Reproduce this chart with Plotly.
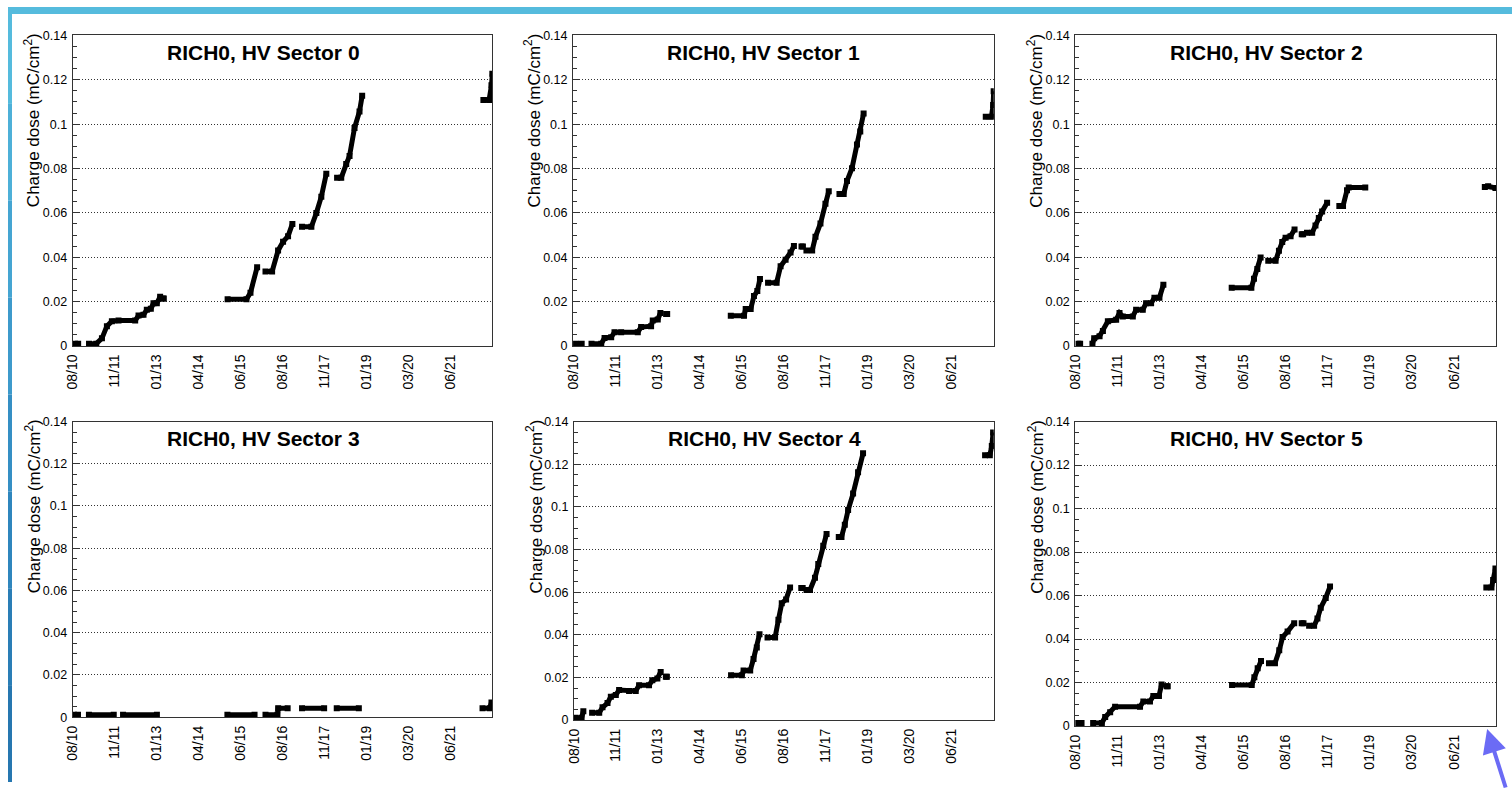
import pandas as pd
import plotly.graph_objects as go

# ---------------- data (decimal years, charge dose in mC/cm^2) ----------------
tick_labels = ["08/10", "11/11", "01/13", "04/14", "06/15", "08/16", "11/17", "01/19", "03/20", "06/21"]
tick_dates = ["2010-08-31", "2011-11-10", "2013-01-21", "2014-04-03", "2015-06-14",
              "2016-08-24", "2017-11-04", "2019-01-15", "2020-03-27", "2021-06-07"]
x_range = ["2010-08-31", "2022-08-18"]
y_ticks = [0, 0.02, 0.04, 0.06, 0.08, 0.10, 0.12, 0.14]
y_tick_labels = ["0", "0.02", "0.04", "0.06", "0.08", "0.1", "0.12", "0.14"]
titles = ["RICH0, HV Sector 0", "RICH0, HV Sector 1", "RICH0, HV Sector 2",
          "RICH0, HV Sector 3", "RICH0, HV Sector 4", "RICH0, HV Sector 5"]

s0_years = [2010.73, 2010.82, None, 2011.13, 2011.337, 2011.498, 2011.640, 2011.782, 2011.971, 2012.445,
            2012.540, 2012.682, 2012.776, 2012.890, 2012.966, 2013.061, 2013.155, None, 2013.23, 2013.26, None,
            2015.08, 2015.618, 2015.732, 2015.922, None, 2016.16, 2016.348, 2016.518, 2016.660, 2016.802,
            2016.925, None, 2017.20, 2017.466, 2017.608, 2017.750, 2017.892, None, 2018.20, 2018.318,
            2018.460, 2018.555, 2018.697, 2018.839, 2018.915, None, 2022.37, 2022.533, 2022.600, 2022.625]
s0_dose = [0.0010, 0.0010, None, 0.0010, 0.0010, 0.0034, 0.0089, 0.0111, 0.0114, 0.0114,
           0.0137, 0.0140, 0.0163, 0.0167, 0.0192, 0.0192, 0.0222, None, 0.0214, 0.0214, None,
           0.0210, 0.0210, 0.0240, 0.0355, None, 0.0336, 0.0336, 0.0430, 0.0470, 0.0495,
           0.0550, None, 0.0537, 0.0537, 0.0599, 0.0673, 0.0776, None, 0.0758, 0.0758,
           0.0820, 0.0857, 0.0983, 0.1057, 0.1128, None, 0.1109, 0.1109, 0.1175, 0.1227]

s1_years = [2010.75, 2010.91, None, 2011.19, 2011.467, 2011.561, 2011.750, 2011.844, 2012.033, 2012.505,
            2012.600, 2012.883, 2012.930, 2013.072, 2013.147, None, 2013.31, 2013.34, None, 2015.15,
            2015.527, 2015.574, 2015.716, 2015.810, 2015.905, 2015.980, None, 2016.21, 2016.453, 2016.566,
            2016.708, 2016.849, 2016.944, None, 2017.16, 2017.20, None, 2017.30, 2017.463, 2017.557,
            2017.699, 2017.841, 2017.935, None, 2018.24, 2018.360, 2018.454, 2018.596, 2018.738, 2018.832,
            2018.927, None, 2022.40, 2022.562, 2022.609, 2022.625]
s1_dose = [0.001, 0.001, None, 0.001, 0.001, 0.0036, 0.0039, 0.0062, 0.0062, 0.0062,
           0.0085, 0.0089, 0.0114, 0.0119, 0.0148, None, 0.0144, 0.0144, None, 0.0136,
           0.0136, 0.0166, 0.0166, 0.0225, 0.0247, 0.0302, None, 0.0285, 0.0285, 0.0359,
           0.0389, 0.0421, 0.0451, None, 0.0448, 0.0448, None, 0.0430, 0.0430, 0.0492,
           0.0552, 0.0641, 0.0697, None, 0.0685, 0.0685, 0.0744, 0.0801, 0.0908, 0.0967,
           0.1048, None, 0.1034, 0.1034, 0.1086, 0.1148]

s2_years = [2010.75, 2010.80, None, 2011.15, 2011.20, 2011.353, 2011.448, 2011.589, 2011.825, 2011.920,
            2012.014, 2012.298, 2012.392, 2012.581, 2012.675, 2012.817, 2012.911, 2013.053, 2013.166, None,
            2015.11, 2015.669, 2015.744, 2015.839, 2015.933, None, 2016.15, 2016.358, 2016.453, 2016.547,
            2016.641, 2016.783, 2016.896, None, 2017.10, 2017.14, None, 2017.25, 2017.397, 2017.491,
            2017.586, 2017.680, 2017.822, None, 2018.17, 2018.275, 2018.388, 2018.436, 2018.908, None,
            2022.307, 2022.401, 2022.609]
s2_dose = [0.001, 0.001, None, 0.001, 0.0034, 0.0044, 0.0067, 0.0111, 0.0118, 0.0148,
           0.0133, 0.0133, 0.0163, 0.0163, 0.0192, 0.0192, 0.0217, 0.0217, 0.0276, None,
           0.0262, 0.0262, 0.0303, 0.0347, 0.0399, None, 0.0384, 0.0384, 0.0429, 0.0469,
           0.0488, 0.0495, 0.0525, None, 0.0503, 0.0503, None, 0.0510, 0.0510, 0.0543,
           0.0577, 0.0606, 0.0646, None, 0.0631, 0.0631, 0.0702, 0.0714, 0.0714, None,
           0.0717, 0.0720, 0.0712]

s3_years = [2010.70, 2010.815, None, 2011.127, 2011.835, None, 2012.10, 2013.063, None, 2015.074,
            2015.848, None, 2016.16, 2016.50, 2016.52, 2016.79, None, 2017.20, 2017.83, None,
            2018.19, 2018.82, None, 2022.345, 2022.55, 2022.60]
s3_dose = [0.0012, 0.0012, None, 0.0012, 0.0012, None, 0.0012, 0.0012, None, 0.0012,
           0.0012, None, 0.0012, 0.0012, 0.0042, 0.0042, None, 0.0042, 0.0042, None,
           0.0042, 0.0042, None, 0.0042, 0.0042, 0.0070]

s4_years = [2010.70, 2010.88, 2010.93, None, 2011.18, 2011.383, 2011.477, 2011.619, 2011.714, 2011.856,
            2011.950, 2012.234, 2012.423, 2012.518, 2012.801, 2012.896, 2013.038, 2013.133, None, 2013.28,
            2013.31, None, 2015.14, 2015.449, 2015.497, 2015.686, 2015.781, 2015.875, 2015.951, None,
            2016.18, 2016.395, 2016.490, 2016.585, 2016.708, 2016.821, None, 2017.14, 2017.18, None,
            2017.29, 2017.389, 2017.531, 2017.625, 2017.767, 2017.862, None, 2018.21, 2018.287, 2018.382,
            2018.476, 2018.618, 2018.760, 2018.902, None, 2022.38, 2022.515, 2022.572, 2022.609]
s4_dose = [0.0011, 0.0011, 0.0041, None, 0.0034, 0.0034, 0.0060, 0.0080, 0.0110, 0.0118,
           0.0141, 0.0137, 0.0137, 0.0164, 0.0164, 0.0187, 0.0195, 0.0226, None, 0.0203,
           0.0203, None, 0.0210, 0.0210, 0.0233, 0.0233, 0.0287, 0.0340, 0.0402, None,
           0.0387, 0.0387, 0.0471, 0.0548, 0.0566, 0.0622, None, 0.0620, 0.0620, None,
           0.0610, 0.0610, 0.0668, 0.0732, 0.0817, 0.0873, None, 0.0858, 0.0858, 0.0916,
           0.0985, 0.1062, 0.1162, 0.1251, None, 0.1242, 0.1242, 0.1285, 0.1349]

s5_years = [2010.72, 2010.84, None, 2011.17, 2011.418, 2011.513, 2011.654, 2011.795, 2012.503, 2012.597,
            2012.785, 2012.880, 2013.040, 2013.115, None, 2013.26, 2013.29, None, 2015.12, 2015.680,
            2015.755, 2015.849, 2015.944, None, 2016.17, 2016.340, 2016.462, 2016.557, 2016.698, 2016.886,
            None, 2017.10, 2017.15, None, 2017.31, 2017.452, 2017.547, 2017.641, 2017.782, 2017.905, None,
            2022.35, 2022.496, 2022.544, 2022.609]
s5_dose = [0.00135, 0.00135, None, 0.00135, 0.00135, 0.0041, 0.0063, 0.0089, 0.0089, 0.0113,
           0.0113, 0.0138, 0.0138, 0.0191, None, 0.0183, 0.0183, None, 0.0188, 0.0188,
           0.0224, 0.0266, 0.0299, None, 0.0288, 0.0288, 0.0348, 0.0409, 0.0434, 0.0473,
           None, 0.0473, 0.0473, None, 0.0461, 0.0461, 0.0494, 0.0544, 0.0589, 0.0641, None,
           0.0637, 0.0637, 0.0671, 0.0724]

series_years = [s0_years, s1_years, s2_years, s3_years, s4_years, s5_years]
series_dose = [s0_dose, s1_dose, s2_dose, s3_dose, s4_dose, s5_dose]


def to_date(y):
    if y is None:
        return None
    yr = int(y)
    start = pd.Timestamp(yr, 1, 1)
    end = pd.Timestamp(yr + 1, 1, 1)
    return (start + (end - start) * (y - yr)).strftime("%Y-%m-%d %H:%M:%S")


# ---------------- layout geometry (pixels) ----------------
W, H = 1512, 789
panels_px = [  # left, right, top, bottom
    (65, 487, 29, 345), (568, 991, 29, 345), (1073, 1496, 29, 345),
    (65, 487, 422, 723), (569, 991, 422, 726), (1073, 1496, 422, 732),
]

FONT = "Liberation Sans, Arial, Helvetica, sans-serif"
fig = go.Figure()
layout = dict(
    width=W, height=H, margin=dict(l=0, r=0, t=0, b=0),
    paper_bgcolor="white", plot_bgcolor="white", showlegend=False,
    font=dict(family=FONT, color="black"),
)
annotations = []
minor_vals = [round(i * 0.005, 3) for i in range(0, 29)]

for i, (l, r, t, b) in enumerate(panels_px):
    n = "" if i == 0 else str(i + 1)
    xa, ya = "x" + n, "y" + n
    layout["xaxis" + n] = dict(
        domain=[l / W, r / W], anchor=ya, type="date", range=x_range,
        tickvals=tick_dates, ticktext=tick_labels, tickangle=-90,
        ticks="", showgrid=False, zeroline=False, showline=True, mirror=True,
        linecolor="#333", linewidth=1, tickfont=dict(size=14, family=FONT, color="black"),
        ticklabelstandoff=2,
    )
    layout["yaxis" + n] = dict(
        domain=[1 - b / H, 1 - t / H], anchor=xa, range=[0, 0.14],
        tickvals=y_ticks, ticktext=y_tick_labels, ticks="inside", ticklen=6,
        tickcolor="#333", showgrid=True, gridcolor="#333", griddash="1px,2px", gridwidth=1,
        zeroline=False, showline=True, mirror=True, linecolor="#333", linewidth=1,
        tickfont=dict(size=12.5, family=FONT, color="black"), ticklabelstandoff=2,
        minor=dict(tickvals=minor_vals, ticks="inside", ticklen=4, tickcolor="#333", showgrid=False),
    )
    fig.add_trace(go.Scatter(
        x=[to_date(v) for v in series_years[i]], y=series_dose[i],
        mode="lines+markers", xaxis=xa, yaxis=ya, connectgaps=False,
        line=dict(color="black", width=5),
        marker=dict(symbol="square", size=6, color="black"),
        hoverinfo="skip",
    ))
    annotations.append(dict(
        text="<b>" + titles[i] + "</b>", xref=xa + " domain", yref=ya + " domain",
        x=0.5, y=1, xshift=-19.5, yshift=-17, xanchor="center", yanchor="middle",
        showarrow=False, font=dict(size=21, family=FONT, color="black"),
    ))
    annotations.append(dict(
        text="Charge dose (mC/cm<sup>2</sup>)", xref=xa + " domain", yref=ya + " domain",
        x=0, y=1, xshift=-40, yshift=-85, xanchor="center", yanchor="middle",
        textangle=-90, showarrow=False, font=dict(size=17, family=FONT, color="black"),
    ))

# arrow pointing at the last point of sector 5
annotations.append(dict(
    x=1487 / W, y=1 - 735 / H, xref="paper", yref="paper", ax=19, ay=64,
    showarrow=True, arrowhead=2, arrowsize=1.2, arrowwidth=4, arrowcolor="#6b6bf5", text="",
))

# decorative slide border strips
shapes = [dict(type="rect", xref="paper", yref="paper", x0=0, x1=1, y0=1 - 7 / H, y1=1,
               fillcolor="#55bbdd", line=dict(width=0), layer="above")]
left_cols = ["#55bbdd", "#4db0d8", "#45a5d2", "#3d9acb", "#358fc4", "#2f86bd", "#2a7eb6", "#2677b0"]
nseg = len(left_cols)
for k, c in enumerate(left_cols):
    shapes.append(dict(type="rect", xref="paper", yref="paper", x0=0, x1=4 / W,
                       y0=1 - (k + 1) / nseg, y1=1 - k / nseg, fillcolor=c, line=dict(width=0),
                       layer="above"))

layout["annotations"] = annotations
layout["shapes"] = shapes
fig.update_layout(**layout)
fig.write_html(
    "out.html",
    config={"displayModeBar": False},
    post_script=(
        "document.documentElement.style.margin='0';"
        "document.body.style.margin='0';document.body.style.padding='0';"
        "document.body.style.overflow='hidden';"
        "var d=document.getElementById('{plot_id}');"
        "d.style.position='absolute';d.style.left='0px';d.style.top='0px';"
    ),
)
